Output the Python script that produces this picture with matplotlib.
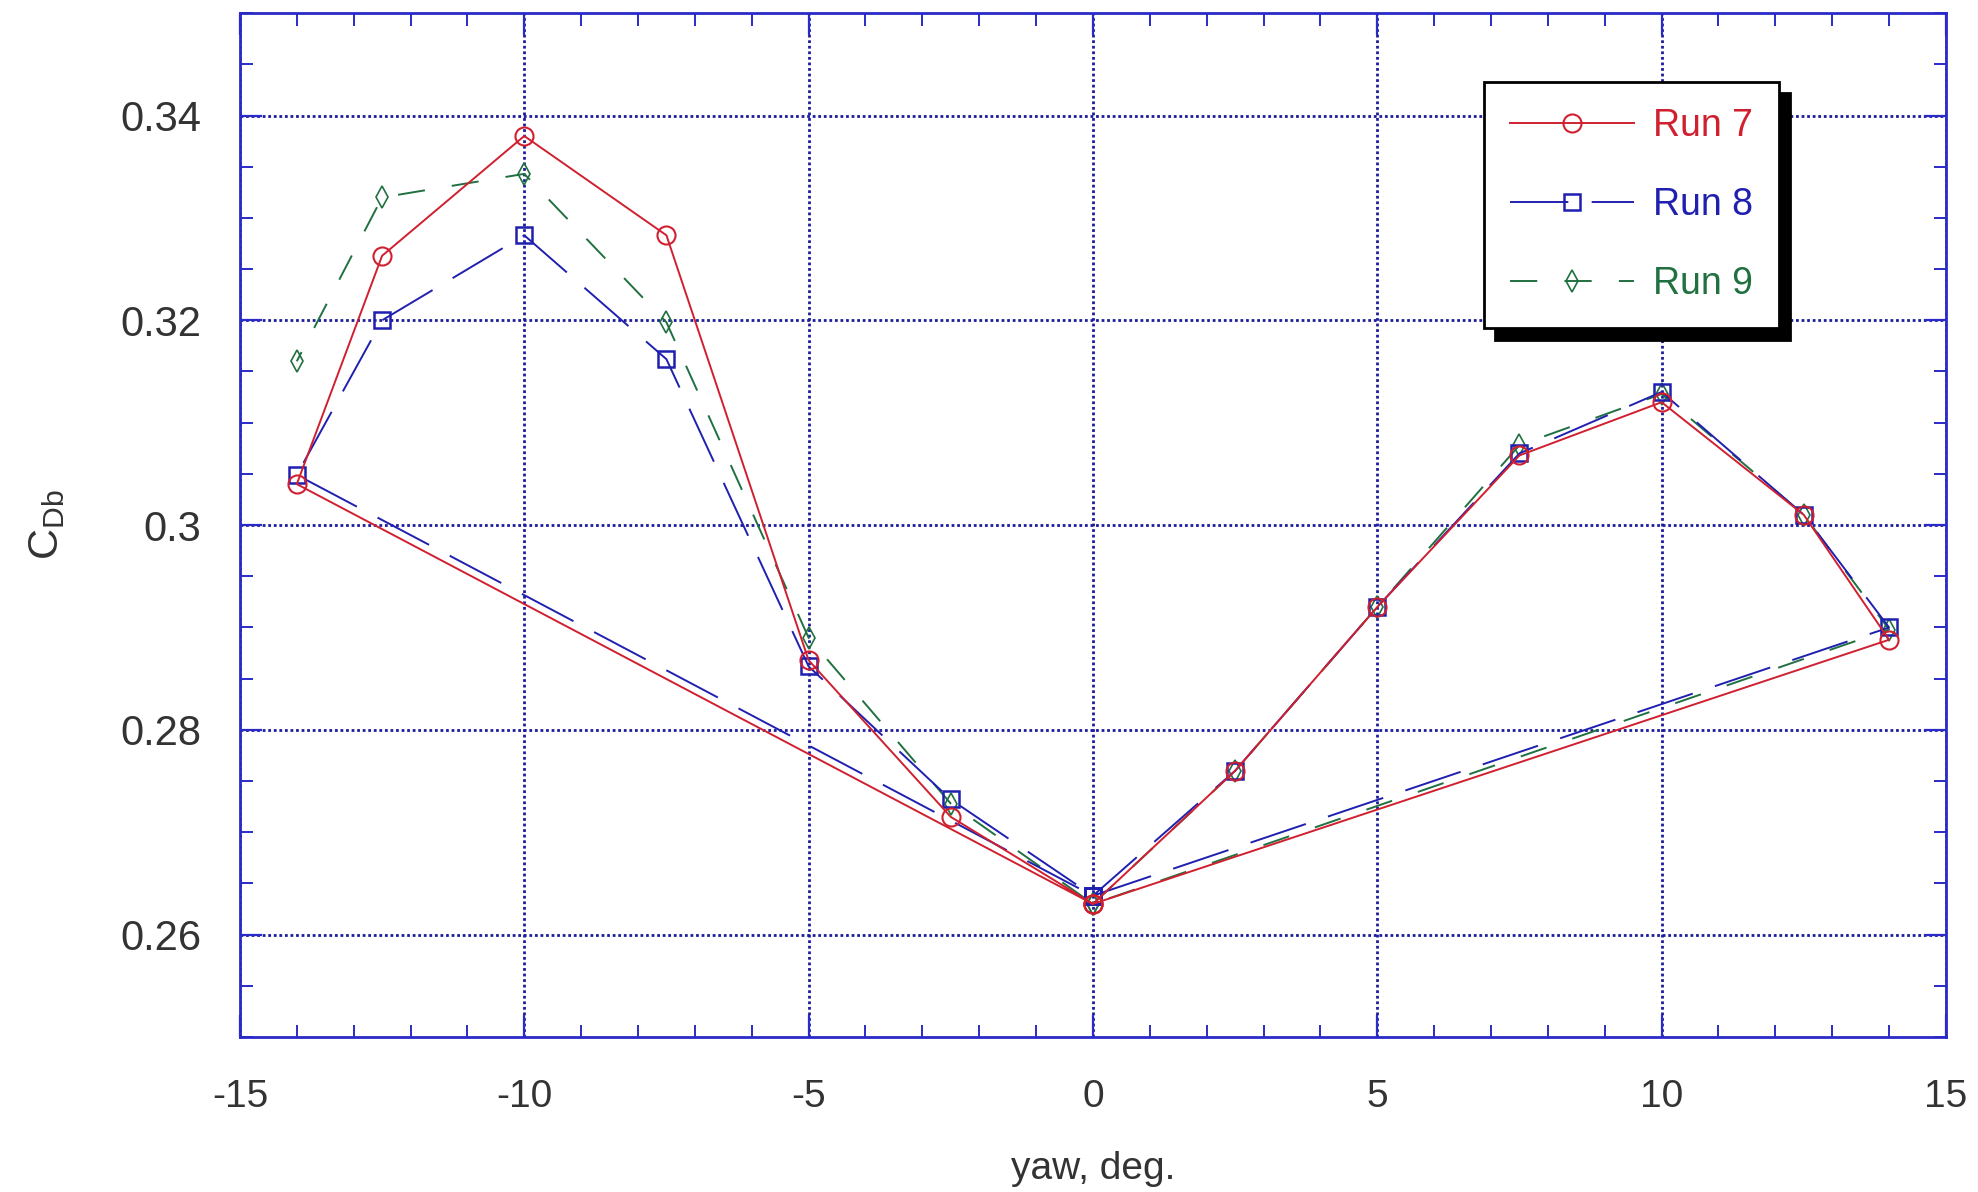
import matplotlib
matplotlib.use("Agg")
import matplotlib.pyplot as plt
from matplotlib.ticker import MultipleLocator

plt.rcParams["font.family"] = ["Liberation Sans", "DejaVu Sans"]
plt.rcParams["mathtext.fontset"] = "custom"
plt.rcParams["mathtext.rm"] = "Liberation Sans"

# yaw sweep order: 0 -> +14, back to 0, 0 -> -14, back to 0
yaw = [0, 2.5, 5, 7.5, 10, 12.5, 14, 0, -2.5, -5, -7.5, -10, -12.5, -14, 0]
run7 = [0.263, 0.276, 0.292, 0.3068, 0.312, 0.301, 0.2888, 0.263,
        0.2715, 0.2868, 0.3283, 0.338, 0.3263, 0.304, 0.263]
run8 = [0.2638, 0.276, 0.292, 0.307, 0.313, 0.301, 0.290, 0.2638,
        0.2732, 0.2862, 0.3162, 0.3283, 0.320, 0.3049, 0.2638]
# run 9 stops at -14 (no return leg)
run9 = [0.263, 0.276, 0.292, 0.3078, 0.3128, 0.301, 0.2898, 0.263,
        0.2728, 0.289, 0.3198, 0.3343, 0.332, 0.316]

xticks = [-15, -10, -5, 0, 5, 10, 15]
yticks = [0.26, 0.28, 0.30, 0.32, 0.34]
ytick_labels = ["0.26", "0.28", "0.3", "0.32", "0.34"]

red = "#d02030"
blue = "#2020b0"
green = "#207040"
frame = "#2a2ac8"
grid = "#1c1c9c"
txt = "#333333"

fig = plt.figure(figsize=(19.78, 11.92), dpi=100)
ax = fig.add_axes([0.1213, 0.130, 0.8625, 0.859])

ax.plot(yaw, run7, color=red, lw=1.4, marker="o", ms=13, mfc="none",
        mew=1.5, label="Run 7", zorder=4)
l8, = ax.plot(yaw, run8, color=blue, lw=1.4, marker="s", ms=12, mfc="none",
              mew=1.8, label="Run 8", zorder=3)
l8.set_dashes([30, 12])
l9, = ax.plot(yaw[:len(run9)], run9, color=green, lw=1.4, marker="d", ms=11,
              mfc="none", mew=1.2, label="Run 9", zorder=2)
l9.set_dashes([14, 14])

ax.set_xlim(-15, 15)
ax.set_ylim(0.25, 0.35)
ax.set_xticks(xticks)
ax.set_xticklabels([str(t) for t in xticks])
ax.set_yticks(yticks)
ax.set_yticklabels(ytick_labels)
ax.xaxis.set_minor_locator(MultipleLocator(1))
ax.yaxis.set_minor_locator(MultipleLocator(0.005))

ax.grid(True, which="major", color=grid, lw=2, ls=(0, (1, 1)), zorder=0)
ax.tick_params(which="both", direction="in", top=True, right=True,
               color=frame, labelcolor=txt)
ax.tick_params(which="major", length=16, width=1.6)
ax.tick_params(which="minor", length=9, width=1.4)
ax.tick_params(axis="x", labelsize=28, pad=30)
ax.tick_params(axis="y", labelsize=30, pad=28)
for s in ax.spines.values():
    s.set_color(frame)
    s.set_linewidth(2)

ax.set_xlabel("yaw, deg.", fontsize=28, color=txt, labelpad=26)
ax.set_ylabel(r"$\mathregular{C_{Db}}$", fontsize=31, color=txt, labelpad=38)

leg = ax.legend(loc="upper right", bbox_to_anchor=(0.902, 0.933),
                borderaxespad=0, fontsize=27, handlelength=3.3,
                labelspacing=1.15, borderpad=0.7, handletextpad=0.5,
                fancybox=False, framealpha=1, edgecolor="black",
                labelcolor="linecolor",
                shadow={"color": "black", "alpha": 1, "ox": 8, "oy": -8})
leg.get_frame().set_linewidth(2)

fig.savefig("out.png", dpi=100, facecolor="white")
